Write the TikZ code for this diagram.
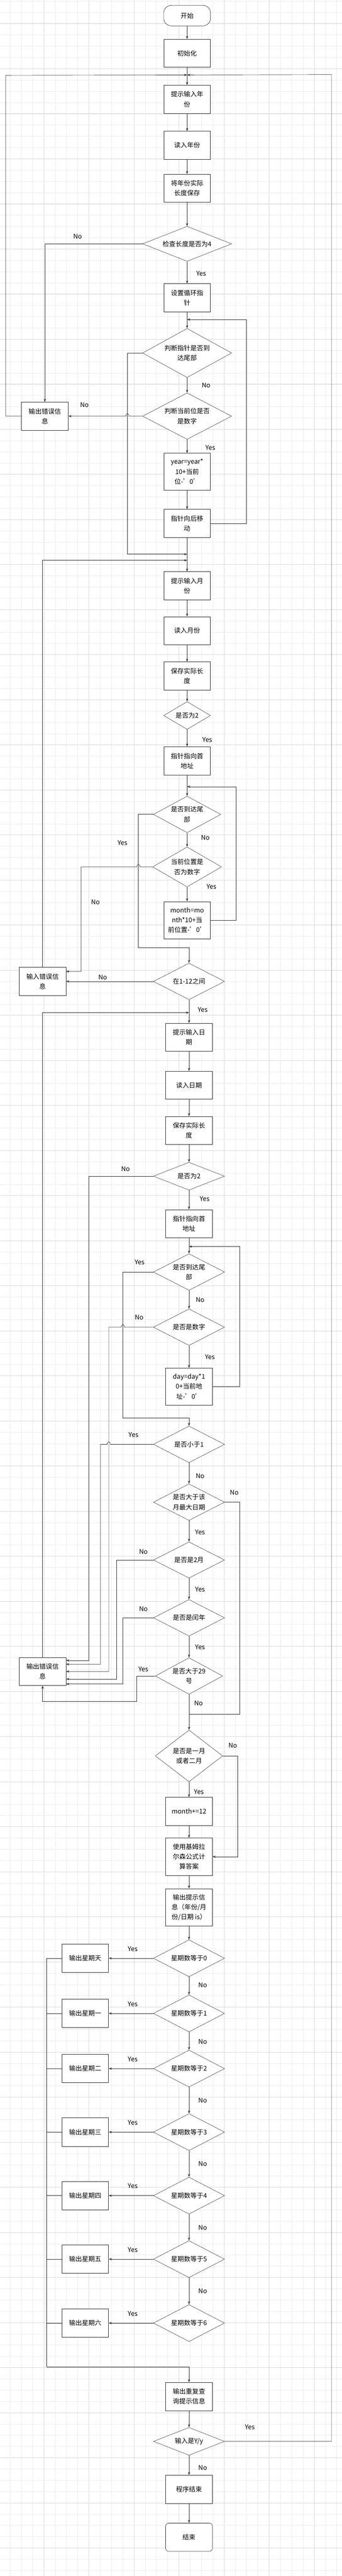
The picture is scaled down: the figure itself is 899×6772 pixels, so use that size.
\documentclass[tikz,border=0pt]{standalone}
\usepackage{fontspec}
\setmainfont{Noto Sans CJK SC}
\usetikzlibrary{shapes.geometric,arrows.meta}
\newcommand\sq{{\char39\relax}}
\begin{document}
\begin{tikzpicture}[x=1pt,y=-1pt,
  every node/.style={font=\fontsize{17}{26}\selectfont, text=black},
  proc/.style={draw=black!80, line width=0.9pt, fill=white, rectangle, minimum width=123, minimum height=74, inner sep=0, align=center},
  term/.style={proc, rounded corners=#1},
  dec/.style={draw=black!75, line width=0.8pt, fill=white, diamond, inner sep=0, align=center},
  lbl/.style={font=\fontsize{17}{20}\selectfont, inner sep=0},
  ln/.style={draw=black!80, line width=0.9pt},
  ar/.style={ln, -{Stealth[length=8,width=6]}}]
\useasboundingbox (0,0) rectangle (899,6772);
\fill[white] (0,0) rectangle (899,6772);
% grid
\foreach \i in {0,...,31} {\draw[black!7, line width=0.6pt] ({-3.5+\i*29.625},0) -- ({-3.5+\i*29.625},6772);}
\foreach \i in {0,...,7} {\draw[black!14, line width=0.8pt] ({-3.5+\i*118.5},0) -- ({-3.5+\i*118.5},6772);}
\foreach \i in {0,...,229} {\draw[black!7, line width=0.6pt] (0,{2.75+\i*29.625}) -- (899,{2.75+\i*29.625});}
\foreach \i in {0,...,57} {\draw[black!14, line width=0.8pt] (0,{62+\i*118.5}) -- (899,{62+\i*118.5});}

% ---- nodes: year
\node[term=20, minimum height=54] (start) at (492,41) {开始};
\node[proc] (init) at (492,140) {初始化};
\coordinate (J1) at (492,197);
\node[proc] (p1) at (492,261) {提示输入年\\份};
\node[proc] (p2) at (492,382) {读入年份};
\node[proc] (p3) at (492,495) {将年份实际\\长度保存};
\node[dec, minimum width=234, minimum height=92, aspect=2.54] (d1) at (492,641) {检查长度是否为4};
\node[proc] (p4) at (492,783) {设置循环指\\针};
\coordinate (J2) at (492,840);
\node[dec, minimum width=234, minimum height=129, aspect=1.81] (d2) at (492,928) {判断指针是否到\\达尾部};
\node[dec, minimum width=234, minimum height=122, aspect=1.92] (d3) at (492,1094) {判断当前位是否\\是数字};
\node[proc] (e1) at (118,1094) {输出错误信\\息};
\node[proc, minimum height=97] (p5) at (492,1240) {year=year*\\10+当前\\位-\sq0\sq};
\node[proc] (p6) at (492,1376) {指针向后移\\动};
\coordinate (J3a) at (492,1457);
\coordinate (J3b) at (492,1473);
% ---- month
\node[proc] (p7) at (492,1540) {提示输入月\\份};
\node[proc] (p8) at (492,1658) {读入月份};
\node[proc] (p9) at (492,1777) {保存实际长\\度};
\node[dec, minimum width=123, minimum height=73, aspect=1.68] (d4) at (492,1881) {是否为2};
\node[proc] (p10) at (492,2000) {指针指向首\\地址};
\coordinate (J4) at (492,2068);
\node[dec, minimum width=177, minimum height=96, aspect=1.84] (d5) at (492,2141) {是否到达尾\\部};
\node[dec, minimum width=181, minimum height=105, aspect=1.72] (d6) at (492,2279) {当前位置是\\否为数字};
\node[proc, minimum height=98] (p11) at (492,2419) {month=mo\\nth*10+当\\前位置-\sq0\sq};
\node[dec, minimum width=187, minimum height=96, aspect=1.95] (d7) at (497,2580) {在1-12之间};
\node[proc] (e2) at (112,2580) {输入错误信\\息};
\coordinate (J5) at (497,2662);
% ---- day
\node[proc] (p12) at (497,2727) {提示输入日\\期};
\node[proc] (p13) at (497,2853) {读入日期};
\node[proc] (p14) at (497,2972) {保存实际长\\度};
\node[dec, minimum width=187, minimum height=73, aspect=2.56] (d8) at (497,3092) {是否为2};
\node[proc] (p15) at (497,3217) {指针指向首\\地址};
\coordinate (J6) at (497,3277);
\node[dec, minimum width=187, minimum height=96, aspect=1.95] (d9) at (497,3344) {是否到达尾\\部};
\node[dec, minimum width=187, minimum height=96, aspect=1.95] (d10) at (497,3489) {是否是数字};
\node[proc, minimum height=97] (p16) at (497,3645) {day=day*1\\0+当前地\\址-\sq0\sq};
\node[dec, minimum width=187, minimum height=96, aspect=1.95] (d11) at (497,3797) {是否小于1};
\node[dec, minimum width=187, minimum height=96, aspect=1.95] (d12) at (497,3949) {是否大于该\\月最大日期};
\node[dec, minimum width=187, minimum height=95, aspect=1.97] (d13) at (497,4101) {是否是2月};
\node[dec, minimum width=187, minimum height=96, aspect=1.95] (d14) at (497,4253) {是否是闰年};
\node[dec, minimum width=177, minimum height=96, aspect=1.84] (d15) at (497,4406) {是否大于29\\号};
\node[proc] (e3) at (112,4394) {输出错误信\\息};
\coordinate (J7) at (497,4507);
\node[dec, minimum width=177, minimum height=136, aspect=1.3] (d16) at (497,4616) {是否是一月\\或者二月};
\node[proc] (p17) at (497,4762) {month+=12};
\node[proc, minimum height=98] (p18) at (497,4881) {使用基姆拉\\尔森公式计\\算答案};
\node[proc, minimum height=98] (p19) at (497,5014) {输出提示信\\息（年份/月\\份/日期 is）};
% ---- weekdays
\foreach \k/\yy/\w in {0/5148/天,1/5293/一,2/5438/二,3/5605/三,4/5772/四,5/5939/五,6/6107/六} {
  \node[dec, minimum width=187, minimum height=97, aspect=1.93] (s\k) at (497,\yy) {星期数等于\k};
  \node[proc, minimum height=75] (w\k) at (224,\yy) {输出星期\w};
  \draw[ar] (s\k.west) -- (w\k.east);
  \draw[ln] (w\k.west) -- (123,\yy);
  \node[lbl] (ly\k) at (349,\yy-25) {Yes};
}
\coordinate (J8) at (123,6222);
\node[proc] (p20) at (497,6300) {输出重复查\\询提示信息};
\node[dec, minimum width=187, minimum height=73, aspect=2.56] (d24) at (497,6418) {输入是Y/y};
\node[proc] (p21) at (497,6544) {程序结束};
\node[term=8] (end) at (497,6670) {结束};

% ---- connectors: year
\draw[ar] (start) -- (init);
\draw[ar] (init) -- (p1);
\draw[ar] (p1) -- (p2);
\draw[ar] (p2) -- (p3);
\draw[ar] (p3) -- (d1);
\draw[ar] (d1.west) -| (e1.north);
\draw[ar] (d1) -- (p4);
\draw[ar] (p4) -- (d2);
\draw[ar] (p6.east) -- (648,1376) -- (648,840) -- (J2);
\draw[ar] (d2.west) -- (335,928) -- (335,1457) -- (J3a);
\draw[ar] (d2) -- (d3);
\draw[ar] (d3.west) -- (339,1094) .. controls (339,1085) and (331,1085) .. (331,1094) -- (e1.east);
\draw[ar] (d3) -- (p5);
\draw[ar] (p5) -- (p6);
\draw[ar] (p6) -- (p7);
\draw[ar] (e1.west) -- (15,1094) -- (15,198) -- (J1);
\draw[ar] (d24.east) -- (872,6418) -- (872,196) -- (J1);
\draw[ar] (e2.north) -- (112,1473) -- (J3b);
% month
\draw[ar] (p7) -- (p8);
\draw[ar] (p8) -- (p9);
\draw[ar] (p9) -- (d4);
\draw[ar] (d4) -- (p10);
\draw[ar] (p10) -- (d5);
\draw[ar] (p11.east) -- (621,2419) -- (621,2068) -- (J4);
\draw[ar] (d5.west) -- (364,2141) -- (364,2491) -- (497,2491) -- (d7.north);
\draw[ar] (d5) -- (d6);
\draw[ar] (d6.west) -- (368,2279) .. controls (368,2270) and (360,2270) .. (360,2279) -- (213,2279) -- (213,2554) -- (174,2554);
\draw[ar] (d6) -- (p11);
\draw[ar] (d7.west) -- (e2.east);
\draw[ar] (d7) -- (p12);
\draw[ar] (e3.north) -- (112,2662) -- (J5);
% day
\draw[ar] (p12) -- (p13);
\draw[ar] (p13) -- (p14);
\draw[ar] (p14) -- (d8);
\draw[ar] (d8.west) -- (233,3092) -- (233,4365) -- (174,4365);
\draw[ar] (d8) -- (p15);
\draw[ar] (p15) -- (d9);
\draw[ar] (p16.east) -- (630,3645) -- (630,3277) -- (J6);
\draw[ar] (d9.west) -- (323,3344) -- (323,3728) -- (497,3728) -- (d11.north);
\draw[ar] (d9) -- (d10);
\draw[ar] (d10.west) -- (327,3489) .. controls (327,3480) and (319,3480) .. (319,3489) -- (286,3489) -- (286,4394) -- (e3.east);
\draw[ar] (d10) -- (p16);
\draw[ar] (d11.west) -- (290,3797) .. controls (290,3788) and (282,3788) .. (282,3797) -- (264,3797) -- (264,4375) -- (174,4375);
\draw[ar] (d11) -- (d12);
\draw[ln] (d12.east) -- (630,3949) -- (630,4507) -- (J7);
\draw[ar] (d12) -- (d13);
\draw[ar] (d13.west) -- (307,4101) -- (307,4414) -- (174,4414);
\draw[ar] (d13) -- (d14);
\draw[ar] (d14.west) -- (323,4253) -- (323,4427) -- (174,4427);
\draw[ar] (d14) -- (d15);
\draw[ar] (d15.west) -- (360,4406) -- (360,4472) -- (112,4472) -- (e3.south);
\draw[ar] (d15) -- (d16);
\draw[ar] (d16.east) -- (625,4616) -- (625,4881) -- (p18.east);
\draw[ar] (d16) -- (p17);
\draw[ar] (p17) -- (p18);
\draw[ar] (p18) -- (p19);
\draw[ar] (p19) -- (s0);
\foreach \a/\b in {0/1,1/2,2/3,3/4,4/5,5/6} {\draw[ar] (s\a) -- (s\b);}
\draw[ln] (123,5148) -- (J8);
\draw[ar] (J8) -- (497,6222) -- (p20.north);
\draw[ar] (p20) -- (d24);
\draw[ar] (d24) -- (p21);
\draw[ar] (p21) -- (end);

% ---- labels
\node[lbl] (t1) at (204,621) {No};
\node[lbl] (t2) at (529,719) {Yes};
\node[lbl] (t3) at (542,1013) {No};
\node[lbl] (t4) at (222,1065) {No};
\node[lbl] (t5) at (553,1177) {Yes};
\node[lbl] (t6) at (545,1945) {Yes};
\node[lbl] (t7) at (322,2216) {Yes};
\node[lbl] (t8) at (540,2202) {No};
\node[lbl] (t9) at (251,2372) {No};
\node[lbl] (t10) at (556,2331) {Yes};
\node[lbl] (t11) at (270,2569) {No};
\node[lbl] (t12) at (533,2654) {Yes};
\node[lbl] (t13) at (330,3073) {No};
\node[lbl] (t14) at (538,3152) {Yes};
\node[lbl] (t15) at (367,3318) {Yes};
\node[lbl] (t16) at (526,3417) {No};
\node[lbl] (t17) at (366,3463) {No};
\node[lbl] (t18) at (552,3568) {Yes};
\node[lbl] (t19) at (351,3772) {Yes};
\node[lbl] (t20) at (526,3880) {No};
\node[lbl] (t21) at (616,3923) {No};
\node[lbl] (t22) at (526,4028) {Yes};
\node[lbl] (t23) at (377,4080) {No};
\node[lbl] (t24) at (526,4178) {Yes};
\node[lbl] (t25) at (377,4230) {No};
\node[lbl] (t26) at (526,4330) {Yes};
\node[lbl] (t27) at (377,4388) {Yes};
\node[lbl] (t28) at (522,4477) {No};
\node[lbl] (t29) at (612,4588) {No};
\node[lbl] (t30) at (523,4711) {Yes};
\node[lbl] (n1) at (533,5219) {No};
\node[lbl] (n2) at (533,5368) {No};
\node[lbl] (n3) at (533,5522) {No};
\node[lbl] (n4) at (533,5689) {No};
\node[lbl] (n5) at (533,5857) {No};
\node[lbl] (n6) at (533,6023) {No};
\node[lbl] (t31) at (657,6381) {Yes};
\node[lbl] (t32) at (533,6488) {No};
\end{tikzpicture}
\end{document}
